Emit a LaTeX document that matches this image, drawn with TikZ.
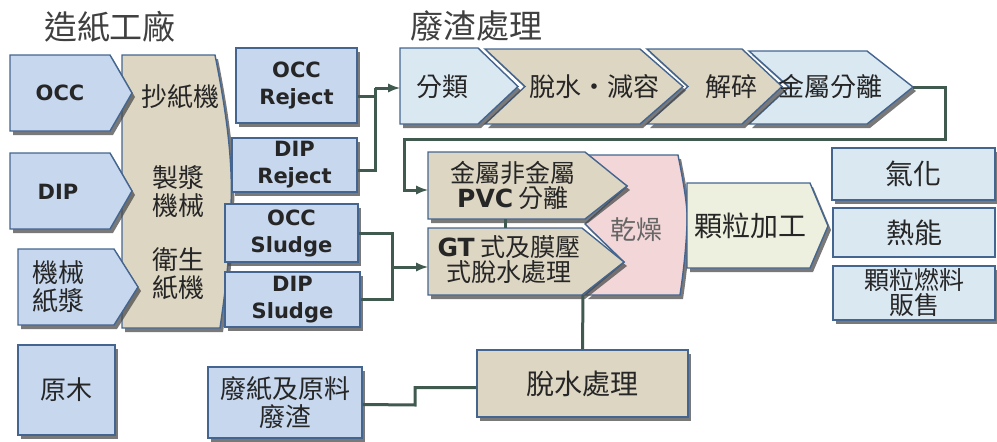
\documentclass[tikz,border=0pt]{standalone}
\usepackage{fontspec}
\setmainfont{Noto Sans CJK TC}
\newfontfamily\latinfont{DejaVu Sans}
\usepackage{tikz}
\usetikzlibrary{calc,arrows,shadows}

\definecolor{boxblue}{HTML}{C6D7EE}
\definecolor{paleblue}{HTML}{DAE8F2}
\definecolor{tanfill}{HTML}{DDD6C3}
\definecolor{pinkfill}{HTML}{F3D6D8}
\definecolor{creamfill}{HTML}{EEF0DF}
\definecolor{edgeblue}{HTML}{44658F}
\definecolor{linkgreen}{HTML}{405A50}

\tikzset{
  shp/.style={draw=edgeblue,line width=1.4pt},
  shad/.style={drop shadow={shadow xshift=3pt,shadow yshift=-4pt,fill=black!70,opacity=.75}},
  link/.style={draw=linkgreen,line width=3pt},
  cjk/.style={font=\fontsize{26}{28}\selectfont,align=center,text=black!85},
  eng/.style={font=\latinfont\bfseries\fontsize{21}{27}\selectfont,align=center,text=black!85},
  rbox/.style={shp,rectangle,inner sep=0pt,align=center},
  heading/.style={font=\fontsize{33}{36}\selectfont,text=black!75}
}

\begin{document}
\begin{tikzpicture}[x=1pt,y=-1pt,>=latex]
				\useasboundingbox (0,0) rectangle (997,442);
				%headings
				\node[heading] (plant) at (110,27) {造紙工廠};
				\node[heading] (waste) at (476,26) {廢渣處理};
				
				%machines
				\filldraw[shp,fill=tanfill,shad] (122,55) -- (215,55) .. controls (226,110) and (233,160) .. (231,205) .. controls (230,260) and (224,300) .. (220,328) -- (122,328) -- cycle;
				\node[cjk] (paper) at (180,97) {抄紙機};
				\node[cjk] (pulp) at (178,192) {製漿\\機械};
				\node[cjk] (tissue) at (178,274) {衛生\\紙機};
				
				%raw materials
				\filldraw[shp,fill=boxblue,shad] (10,55) -- (110,55) -- (132,93) -- (110,131) -- (10,131) -- cycle;
				\node[eng] (occ) at (60,93) {OCC};
				\filldraw[shp,fill=boxblue,shad] (10,153) -- (110,153) -- (132,191) -- (110,229) -- (10,229) -- cycle;
				\node[eng] (dip) at (58,192) {DIP};
				\filldraw[shp,fill=boxblue,shad] (18,249) -- (114,249) -- (138,287) -- (114,325) -- (18,325) -- cycle;
				\node[cjk] (mech) at (58,287) {機械\\紙漿};
				\node[rbox,cjk,fill=boxblue,shad,minimum width=97pt,minimum height=90pt] (wood) at (66.5,390) {原木};
				
				%residues
				\node[rbox,eng,fill=boxblue,shad,minimum width=121pt,minimum height=75pt] (occrej) at (296.5,85.5) {OCC\\Reject};
				\node[rbox,eng,fill=boxblue,shad,minimum width=125pt,minimum height=54pt] (diprej) at (294.5,165) {DIP\\Reject};
				\node[rbox,eng,fill=boxblue,shad,minimum width=133pt,minimum height=58pt] (occsl) at (291.5,233) {OCC\\Sludge};
				\node[rbox,eng,fill=boxblue,shad,minimum width=135pt,minimum height=55pt] (dipsl) at (292.5,299.5) {DIP\\Sludge};
				\node[rbox,cjk,fill=boxblue,shad,minimum width=154pt,minimum height=71pt] (scrap) at (285,402.5) {廢紙及原料\\廢渣};
				
				%top chain
				\filldraw[shp,fill=paleblue,shad] (749,51) -- (867,51) -- (913,87) -- (867,124) -- (749,124) -- (789,87) -- cycle;
				\filldraw[shp,fill=tanfill,shad] (647,49) -- (742,49) -- (782,86.5) -- (742,124) -- (647,124) -- (688,86.5) -- cycle;
				\filldraw[shp,fill=tanfill,shad] (485,49) -- (640,49) -- (683,86.5) -- (640,124) -- (485,124) -- (525,86.5) -- cycle;
				\filldraw[shp,fill=paleblue,shad] (400,48) -- (478,48) -- (518,86.5) -- (478,124) -- (400,124) -- cycle;
				\node[cjk] (sort) at (442,87) {分類};
				\node[cjk] (dewater) at (594,87) {脫水・減容};
				\node[cjk] (crush) at (731,87) {解碎};
				\node[cjk] (metal) at (830,87) {金屬分離};
				\coordinate (sort-in) at (400,88);
				\coordinate (metal-out) at (913,87);
				
				%drying
				\filldraw[shp,fill=pinkfill,shad] (585,155) -- (678,155) .. controls (685,190) and (688,210) .. (687,225) .. controls (686,250) and (683,275) .. (680,295) -- (585,295) -- (624,262) -- (585,224) -- (627,186) -- cycle;
				\node[cjk,text=black!60] (dry) at (636,230) {乾燥};
				\filldraw[shp,fill=tanfill,shad] (428,152) -- (585,152) -- (627,186) -- (585,219) -- (428,219) -- cycle;
				\node[cjk,font=\fontsize{25}{25}\selectfont] (sep) at (513,185) {金屬非金屬\\{\latinfont\bfseries PVC} 分離};
				\filldraw[shp,fill=tanfill,shad] (428,228) -- (582,228) -- (624,262) -- (582,295) -- (428,295) -- cycle;
				\node[cjk,font=\fontsize{25}{25}\selectfont] (press) at (509,260) {{\latinfont\bfseries GT} 式及膜壓\\式脫水處理};
				\coordinate (sep-in) at (428,190);
				\coordinate (press-in) at (428,267);
				\filldraw[shp,fill=creamfill,shad] (687,183) -- (810,183) -- (828,226) -- (810,268) -- (687,268) -- cycle;
				\node[cjk,font=\fontsize{28}{30}\selectfont] (pellet) at (750,226) {顆粒加工};
				
				%uses
				\node[rbox,cjk,font=\fontsize{28}{30}\selectfont,fill=paleblue,shad,minimum width=163pt,minimum height=52pt] (gas) at (913.5,174) {氣化};
				\node[rbox,cjk,font=\fontsize{28}{30}\selectfont,fill=paleblue,minimum width=162pt,minimum height=49pt] (heat) at (914,232.5) {熱能};
				\node[rbox,cjk,font=\fontsize{25}{25}\selectfont,fill=paleblue,shad,minimum width=162pt,minimum height=54pt] (sale) at (914,293) {顆粒燃料\\販售};
				
				\node[rbox,cjk,font=\fontsize{28}{30}\selectfont,fill=tanfill,shad,minimum width=211pt,minimum height=67pt] (dehyd) at (582.5,383.5) {脫水處理};
				
				%links
				\coordinate (j1) at (375,88);
				\coordinate (j2) at (392,267);
				\draw[link] ([yshift=-11pt]occrej.east) -| (j1);
				\draw[link] ([yshift=-5pt]diprej.east) -| (j1);
				\draw[link,->] (j1) -- (sort-in);
				\draw[link] (occsl.east) -| (j2);
				\draw[link] (dipsl.east) -| (j2);
				\draw[link,->] (j2) -- (press-in);
				\draw[link,->] (metal-out) -- (945,87) -- (945,139) -- (404,139) |- (sep-in);
				\draw[link] (505,219) -- (505,228);
				\draw[link] (583,295) -- (dehyd.north);
				\draw[link] ([yshift=-2pt]scrap.east) -- (415,405) |- ([yshift=-4pt]dehyd.west);
				
			\end{tikzpicture}
\end{document}
